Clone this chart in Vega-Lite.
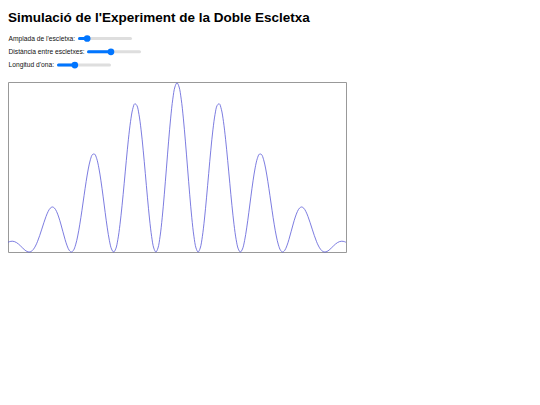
{
  "$schema": "https://vega.github.io/schema/vega-lite/v6.json",
  "background": "white",
  "padding": {"left": 5, "top": 10, "right": 5, "bottom": 5},
  "title": {"text": "Simulació de l'Experiment de la Doble Escletxa", "anchor": "start", "font": "Liberation Sans", "fontSize": 13.5, "fontWeight": "bold", "color": "#000000", "offset": 10, "dx": 2},
  "datasets": {
    "controls": [
      {"ordre": 1, "parametre": "Amplada de l'escletxa:", "minim": 0, "maxim": 100, "valor": 15},
      {"ordre": 2, "parametre": "Distància entre escletxes:", "minim": 0, "maxim": 100, "valor": 44},
      {"ordre": 3, "parametre": "Longitud d'ona:", "minim": 0, "maxim": 100, "valor": 32}
    ],
    "corba": [
      {"posicio": -4.0, "intensitat": 0.0573}, {"posicio": -3.95, "intensitat": 0.0622}, {"posicio": -3.9, "intensitat": 0.0638}, {"posicio": -3.85, "intensitat": 0.0617}, {"posicio": -3.8, "intensitat": 0.0558},
      {"posicio": -3.75, "intensitat": 0.0467}, {"posicio": -3.7, "intensitat": 0.0351}, {"posicio": -3.65, "intensitat": 0.0228}, {"posicio": -3.6, "intensitat": 0.0114}, {"posicio": -3.55, "intensitat": 0.0032},
      {"posicio": -3.5, "intensitat": 0.0}, {"posicio": -3.45, "intensitat": 0.0037}, {"posicio": -3.4, "intensitat": 0.0153}, {"posicio": -3.35, "intensitat": 0.0353}, {"posicio": -3.3, "intensitat": 0.0631},
      {"posicio": -3.25, "intensitat": 0.0973}, {"posicio": -3.2, "intensitat": 0.1353}, {"posicio": -3.15, "intensitat": 0.1741}, {"posicio": -3.1, "intensitat": 0.2100}, {"posicio": -3.05, "intensitat": 0.2394},
      {"posicio": -3.0, "intensitat": 0.2590}, {"posicio": -2.95, "intensitat": 0.2662}, {"posicio": -2.9, "intensitat": 0.2596}, {"posicio": -2.85, "intensitat": 0.2393}, {"posicio": -2.8, "intensitat": 0.2070},
      {"posicio": -2.75, "intensitat": 0.1656}, {"posicio": -2.7, "intensitat": 0.1197}, {"posicio": -2.65, "intensitat": 0.0746}, {"posicio": -2.6, "intensitat": 0.0361}, {"posicio": -2.55, "intensitat": 0.0096},
      {"posicio": -2.5, "intensitat": 0.0}, {"posicio": -2.45, "intensitat": 0.0104}, {"posicio": -2.4, "intensitat": 0.0422}, {"posicio": -2.35, "intensitat": 0.0946}, {"posicio": -2.3, "intensitat": 0.1643},
      {"posicio": -2.25, "intensitat": 0.2461}, {"posicio": -2.2, "intensitat": 0.3331}, {"posicio": -2.15, "intensitat": 0.4174}, {"posicio": -2.1, "intensitat": 0.4908}, {"posicio": -2.05, "intensitat": 0.5458},
      {"posicio": -2.0, "intensitat": 0.5764}, {"posicio": -1.95, "intensitat": 0.5787}, {"posicio": -1.9, "intensitat": 0.5518}, {"posicio": -1.85, "intensitat": 0.4975}, {"posicio": -1.8, "intensitat": 0.4210},
      {"posicio": -1.75, "intensitat": 0.3299}, {"posicio": -1.7, "intensitat": 0.2336}, {"posicio": -1.65, "intensitat": 0.1427}, {"posicio": -1.6, "intensitat": 0.0676}, {"posicio": -1.55, "intensitat": 0.0177},
      {"posicio": -1.5, "intensitat": 0.0}, {"posicio": -1.45, "intensitat": 0.0185}, {"posicio": -1.4, "intensitat": 0.0735}, {"posicio": -1.35, "intensitat": 0.1616}, {"posicio": -1.3, "intensitat": 0.2758},
      {"posicio": -1.25, "intensitat": 0.4062}, {"posicio": -1.2, "intensitat": 0.5406}, {"posicio": -1.15, "intensitat": 0.6663}, {"posicio": -1.1, "intensitat": 0.7707}, {"posicio": -1.05, "intensitat": 0.8433},
      {"posicio": -1.0, "intensitat": 0.8764}, {"posicio": -0.95, "intensitat": 0.8661}, {"posicio": -0.9, "intensitat": 0.8131}, {"posicio": -0.85, "intensitat": 0.7220}, {"posicio": -0.8, "intensitat": 0.6018},
      {"posicio": -0.75, "intensitat": 0.4644}, {"posicio": -0.7, "intensitat": 0.3240}, {"posicio": -0.65, "intensitat": 0.1950}, {"posicio": -0.6, "intensitat": 0.0911}, {"posicio": -0.55, "intensitat": 0.0235},
      {"posicio": -0.5, "intensitat": 0.0}, {"posicio": -0.45, "intensitat": 0.0238}, {"posicio": -0.4, "intensitat": 0.0935}, {"posicio": -0.35, "intensitat": 0.2028}, {"posicio": -0.3, "intensitat": 0.3415},
      {"posicio": -0.25, "intensitat": 0.4960}, {"posicio": -0.2, "intensitat": 0.6511}, {"posicio": -0.15, "intensitat": 0.7916}, {"posicio": -0.1, "intensitat": 0.9033}, {"posicio": -0.05, "intensitat": 0.9752},
      {"posicio": 0.0, "intensitat": 1.0},
      {"posicio": 0.05, "intensitat": 0.9752}, {"posicio": 0.1, "intensitat": 0.9033}, {"posicio": 0.15, "intensitat": 0.7916}, {"posicio": 0.2, "intensitat": 0.6511}, {"posicio": 0.25, "intensitat": 0.4960},
      {"posicio": 0.3, "intensitat": 0.3415}, {"posicio": 0.35, "intensitat": 0.2028}, {"posicio": 0.4, "intensitat": 0.0935}, {"posicio": 0.45, "intensitat": 0.0238}, {"posicio": 0.5, "intensitat": 0.0},
      {"posicio": 0.55, "intensitat": 0.0235}, {"posicio": 0.6, "intensitat": 0.0911}, {"posicio": 0.65, "intensitat": 0.1950}, {"posicio": 0.7, "intensitat": 0.3240}, {"posicio": 0.75, "intensitat": 0.4644},
      {"posicio": 0.8, "intensitat": 0.6018}, {"posicio": 0.85, "intensitat": 0.7220}, {"posicio": 0.9, "intensitat": 0.8131}, {"posicio": 0.95, "intensitat": 0.8661}, {"posicio": 1.0, "intensitat": 0.8764},
      {"posicio": 1.05, "intensitat": 0.8433}, {"posicio": 1.1, "intensitat": 0.7707}, {"posicio": 1.15, "intensitat": 0.6663}, {"posicio": 1.2, "intensitat": 0.5406}, {"posicio": 1.25, "intensitat": 0.4062},
      {"posicio": 1.3, "intensitat": 0.2758}, {"posicio": 1.35, "intensitat": 0.1616}, {"posicio": 1.4, "intensitat": 0.0735}, {"posicio": 1.45, "intensitat": 0.0185}, {"posicio": 1.5, "intensitat": 0.0},
      {"posicio": 1.55, "intensitat": 0.0177}, {"posicio": 1.6, "intensitat": 0.0676}, {"posicio": 1.65, "intensitat": 0.1427}, {"posicio": 1.7, "intensitat": 0.2336}, {"posicio": 1.75, "intensitat": 0.3299},
      {"posicio": 1.8, "intensitat": 0.4210}, {"posicio": 1.85, "intensitat": 0.4975}, {"posicio": 1.9, "intensitat": 0.5518}, {"posicio": 1.95, "intensitat": 0.5787}, {"posicio": 2.0, "intensitat": 0.5764},
      {"posicio": 2.05, "intensitat": 0.5458}, {"posicio": 2.1, "intensitat": 0.4908}, {"posicio": 2.15, "intensitat": 0.4174}, {"posicio": 2.2, "intensitat": 0.3331}, {"posicio": 2.25, "intensitat": 0.2461},
      {"posicio": 2.3, "intensitat": 0.1643}, {"posicio": 2.35, "intensitat": 0.0946}, {"posicio": 2.4, "intensitat": 0.0422}, {"posicio": 2.45, "intensitat": 0.0104}, {"posicio": 2.5, "intensitat": 0.0},
      {"posicio": 2.55, "intensitat": 0.0096}, {"posicio": 2.6, "intensitat": 0.0361}, {"posicio": 2.65, "intensitat": 0.0746}, {"posicio": 2.7, "intensitat": 0.1197}, {"posicio": 2.75, "intensitat": 0.1656},
      {"posicio": 2.8, "intensitat": 0.2070}, {"posicio": 2.85, "intensitat": 0.2393}, {"posicio": 2.9, "intensitat": 0.2596}, {"posicio": 2.95, "intensitat": 0.2662}, {"posicio": 3.0, "intensitat": 0.2590},
      {"posicio": 3.05, "intensitat": 0.2394}, {"posicio": 3.1, "intensitat": 0.2100}, {"posicio": 3.15, "intensitat": 0.1741}, {"posicio": 3.2, "intensitat": 0.1353}, {"posicio": 3.25, "intensitat": 0.0973},
      {"posicio": 3.3, "intensitat": 0.0631}, {"posicio": 3.35, "intensitat": 0.0353}, {"posicio": 3.4, "intensitat": 0.0153}, {"posicio": 3.45, "intensitat": 0.0037}, {"posicio": 3.5, "intensitat": 0.0},
      {"posicio": 3.55, "intensitat": 0.0032}, {"posicio": 3.6, "intensitat": 0.0114}, {"posicio": 3.65, "intensitat": 0.0228}, {"posicio": 3.7, "intensitat": 0.0351}, {"posicio": 3.75, "intensitat": 0.0467},
      {"posicio": 3.8, "intensitat": 0.0558}, {"posicio": 3.85, "intensitat": 0.0617}, {"posicio": 3.9, "intensitat": 0.0638}, {"posicio": 3.95, "intensitat": 0.0622}, {"posicio": 4.0, "intensitat": 0.0573}
    ]
  },
  "spacing": 10,
  "vconcat": [
    {
      "spacing": 4.3,
      "vconcat": [
        {
          "spacing": 1.5,
          "hconcat": [
            {"data": {"name": "controls"}, "transform": [{"filter": "datum.ordre == 1"}], "width": 1, "height": 9,
             "mark": {"type": "text", "align": "left", "baseline": "middle", "font": "Liberation Sans", "fontSize": 6.7, "color": "#111111"},
             "encoding": {"text": {"field": "parametre", "type": "nominal"}}},
            {"data": {"name": "controls"}, "transform": [{"filter": "datum.ordre == 1"}], "width": 51, "height": 9,
             "encoding": {"y": {"field": "parametre", "type": "nominal", "axis": null}},
             "layer": [
               {"mark": {"type": "rule", "strokeWidth": 3, "strokeCap": "round", "color": "#dedede"},
                "encoding": {"x": {"field": "minim", "type": "quantitative", "axis": null, "scale": {"nice": false, "zero": false}}, "x2": {"field": "maxim"}}},
               {"mark": {"type": "rule", "strokeWidth": 3, "strokeCap": "round", "color": "#0075ff"},
                "encoding": {"x": {"field": "minim", "type": "quantitative"}, "x2": {"field": "valor"}}},
               {"mark": {"type": "circle", "size": 45, "opacity": 1, "color": "#0075ff"},
                "encoding": {"x": {"field": "valor", "type": "quantitative"}}}
             ]}
          ]
        },
        {
          "spacing": 1.5,
          "hconcat": [
            {"data": {"name": "controls"}, "transform": [{"filter": "datum.ordre == 2"}], "width": 1, "height": 9,
             "mark": {"type": "text", "align": "left", "baseline": "middle", "font": "Liberation Sans", "fontSize": 6.7, "color": "#111111"},
             "encoding": {"text": {"field": "parametre", "type": "nominal"}}},
            {"data": {"name": "controls"}, "transform": [{"filter": "datum.ordre == 2"}], "width": 51, "height": 9,
             "encoding": {"y": {"field": "parametre", "type": "nominal", "axis": null}},
             "layer": [
               {"mark": {"type": "rule", "strokeWidth": 3, "strokeCap": "round", "color": "#dedede"},
                "encoding": {"x": {"field": "minim", "type": "quantitative", "axis": null, "scale": {"nice": false, "zero": false}}, "x2": {"field": "maxim"}}},
               {"mark": {"type": "rule", "strokeWidth": 3, "strokeCap": "round", "color": "#0075ff"},
                "encoding": {"x": {"field": "minim", "type": "quantitative"}, "x2": {"field": "valor"}}},
               {"mark": {"type": "circle", "size": 45, "opacity": 1, "color": "#0075ff"},
                "encoding": {"x": {"field": "valor", "type": "quantitative"}}}
             ]}
          ]
        },
        {
          "spacing": 1.5,
          "hconcat": [
            {"data": {"name": "controls"}, "transform": [{"filter": "datum.ordre == 3"}], "width": 1, "height": 9,
             "mark": {"type": "text", "align": "left", "baseline": "middle", "font": "Liberation Sans", "fontSize": 6.7, "color": "#111111"},
             "encoding": {"text": {"field": "parametre", "type": "nominal"}}},
            {"data": {"name": "controls"}, "transform": [{"filter": "datum.ordre == 3"}], "width": 51, "height": 9,
             "encoding": {"y": {"field": "parametre", "type": "nominal", "axis": null}},
             "layer": [
               {"mark": {"type": "rule", "strokeWidth": 3, "strokeCap": "round", "color": "#dedede"},
                "encoding": {"x": {"field": "minim", "type": "quantitative", "axis": null, "scale": {"nice": false, "zero": false}}, "x2": {"field": "maxim"}}},
               {"mark": {"type": "rule", "strokeWidth": 3, "strokeCap": "round", "color": "#0075ff"},
                "encoding": {"x": {"field": "minim", "type": "quantitative"}, "x2": {"field": "valor"}}},
               {"mark": {"type": "circle", "size": 45, "opacity": 1, "color": "#0075ff"},
                "encoding": {"x": {"field": "valor", "type": "quantitative"}}}
             ]}
          ]
        }
      ]
    },
    {
      "data": {"name": "corba"},
      "width": 338,
      "height": 170,
      "view": {"stroke": "#999999", "strokeWidth": 1},
      "mark": {"type": "line", "interpolate": "catmull-rom", "color": "#5a5ad8", "strokeWidth": 0.8},
      "encoding": {
        "x": {"field": "posicio", "type": "quantitative", "axis": null, "scale": {"domain": [-4, 4], "nice": false, "zero": false}},
        "y": {"field": "intensitat", "type": "quantitative", "axis": null, "scale": {"domain": [0, 1.005], "nice": false}}
      }
    }
  ],
  "config": {"view": {"stroke": null}}
}
